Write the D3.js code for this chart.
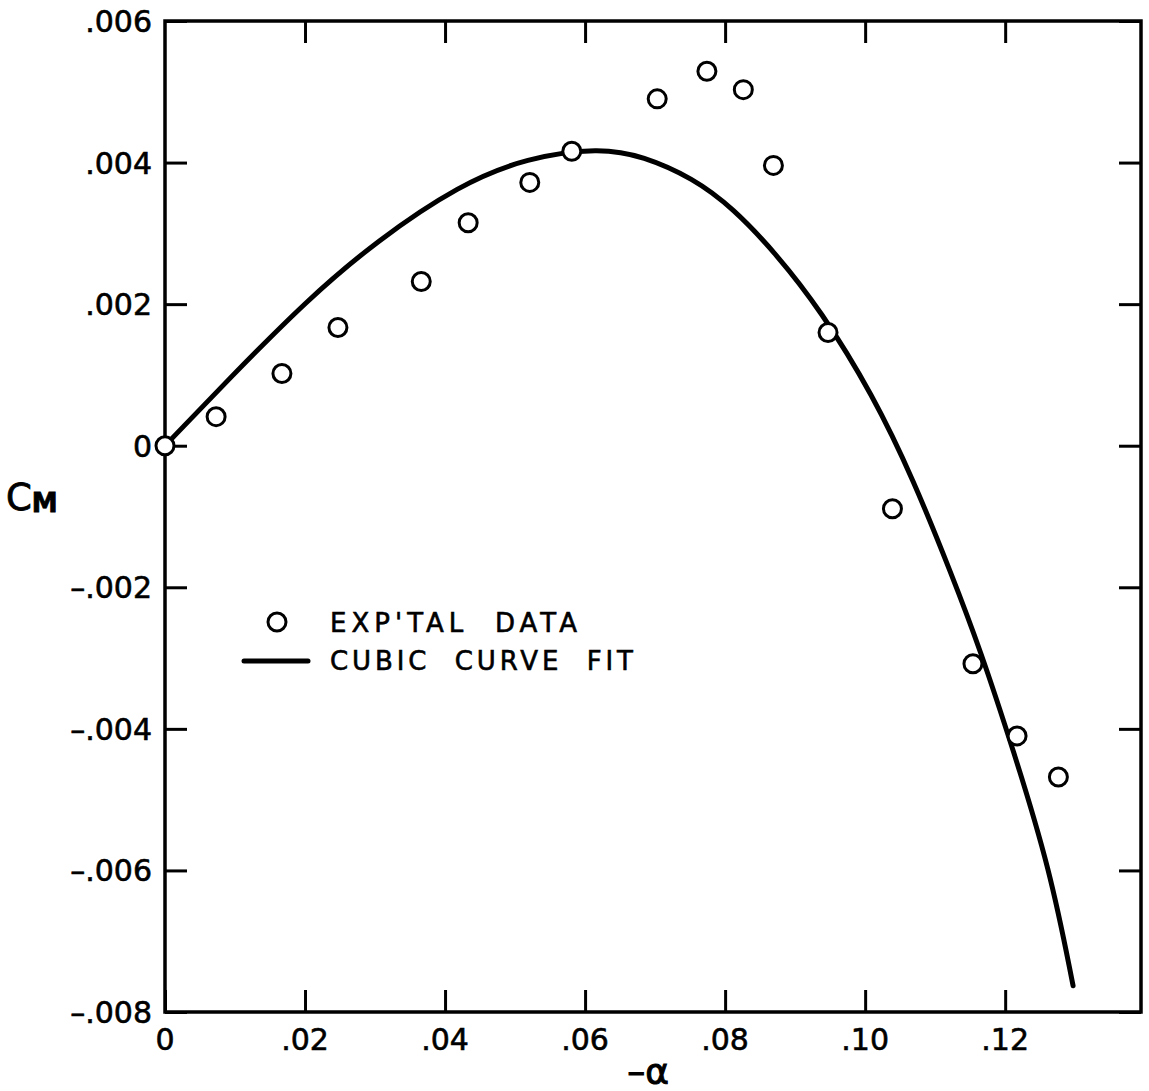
<!DOCTYPE html>
<html>
<head>
<meta charset="utf-8">
<script src="https://cdn.jsdelivr.net/npm/d3@7"></script>
<style>
  html, body { margin: 0; padding: 0; background: #fff; }
  svg text { font-family: "DejaVu Sans", "Liberation Sans", sans-serif; fill: #000; }
</style>
</head>
<body>
<svg id="chart" width="1149" height="1091"></svg>
<script>
// Measured pitching-moment coefficient vs. negative angle of attack
const expAlpha = [0, 0.0073, 0.0167, 0.0247, 0.0366, 0.0433, 0.0521, 0.0581, 0.0703,
                  0.0774, 0.0826, 0.0869, 0.0947, 0.1039, 0.1154, 0.1217, 0.1276];
const expCm    = [0, 0.00041, 0.00102, 0.00167, 0.00232, 0.00315, 0.00372, 0.00416, 0.00490,
                  0.00529, 0.00503, 0.00396, 0.00160, -0.00089, -0.00308, -0.00410, -0.00468];

// Cubic curve fit, sampled along its length
const fitAlpha = [0, 0.0089, 0.0204, 0.0303, 0.0421, 0.0517, 0.0621, 0.0683, 0.0754, 0.0811,
                  0.0874, 0.0936, 0.1011, 0.1069, 0.1124, 0.1164, 0.1211, 0.1264, 0.1297];
const fitCm    = [0, 0.00092, 0.00207, 0.00290, 0.00369, 0.00407, 0.00421, 0.00409, 0.00378, 0.00336,
                  0.00270, 0.00192, 0.00072, -0.00048, -0.00183, -0.00287, -0.00428, -0.00598, -0.00763];

// Axis ticks and their printed labels
const xTicks = [0, 0.02, 0.04, 0.06, 0.08, 0.10, 0.12];
const xTickLabels = ["0", ".02", ".04", ".06", ".08", ".10", ".12"];
const yTicks = [0.006, 0.004, 0.002, 0, -0.002, -0.004, -0.006, -0.008];
const yTickLabels = [".006", ".004", ".002", "0", "\u2013.002", "\u2013.004", "\u2013.006", "\u2013.008"];

const legendLabels = ["EXP'TAL  DATA", "CUBIC  CURVE  FIT"];

const svg = d3.select("#chart");
const plotL = 165, plotR = 1141, plotT = 21, plotB = 1012;

const x = d3.scaleLinear().domain([0, 0.1394]).range([plotL, plotR]);
const y = d3.scaleLinear().domain([-0.008, 0.006]).range([plotB, plotT]);

const tickLen = 22;
const ink = "#000";

// Frame
svg.append("rect")
  .attr("x", plotL).attr("y", plotT)
  .attr("width", plotR - plotL).attr("height", plotB - plotT)
  .attr("fill", "none").attr("stroke", ink).attr("stroke-width", 3.5);

// Inward ticks on all four sides
const axisBottom = d3.axisBottom(x).tickValues(xTicks).tickSizeInner(-tickLen).tickSizeOuter(0).tickFormat("");
const axisTop = d3.axisTop(x).tickValues(xTicks.filter(d => d > 0)).tickSizeInner(-tickLen).tickSizeOuter(0).tickFormat("");
const axisLeft = d3.axisLeft(y).tickValues(yTicks).tickSizeInner(-tickLen).tickSizeOuter(0).tickFormat("");
const axisRight = d3.axisRight(y).tickValues(yTicks).tickSizeInner(-tickLen).tickSizeOuter(0).tickFormat("");

function styleAxis(g) {
  g.select(".domain").remove();
  g.selectAll(".tick line").attr("stroke", ink).attr("stroke-width", 3);
}
svg.append("g").attr("transform", `translate(0,${plotB})`).call(axisBottom).call(styleAxis);
svg.append("g").attr("transform", `translate(0,${plotT})`).call(axisTop).call(styleAxis);
svg.append("g").attr("transform", `translate(${plotL},0)`).call(axisLeft).call(styleAxis);
svg.append("g").attr("transform", `translate(${plotR},0)`).call(axisRight).call(styleAxis);

// Tick labels (slightly stroked to mimic the heavy lettering)
svg.append("g").selectAll("text").data(xTicks).join("text")
  .attr("x", d => x(d)).attr("y", plotB + 38)
  .attr("text-anchor", "middle").attr("font-size", 30)
  .attr("stroke", ink).attr("stroke-width", 0.6)
  .text((d, i) => xTickLabels[i]);

svg.append("g").selectAll("text").data(yTicks).join("text")
  .attr("x", plotL - 13).attr("y", d => y(d) + 11)
  .attr("text-anchor", "end").attr("font-size", 30)
  .attr("stroke", ink).attr("stroke-width", 0.6)
  .text((d, i) => yTickLabels[i]);

// Axis titles
svg.append("text").attr("x", 648).attr("y", 1084)
  .attr("text-anchor", "middle").attr("font-size", 36)
  .attr("stroke", ink).attr("stroke-width", 1)
  .text("\u2013\u03b1");

const yt = svg.append("text").attr("x", 6).attr("y", 510)
  .attr("stroke", ink).attr("stroke-width", 0.8);
yt.append("tspan").attr("font-size", 37).text("C");
yt.append("tspan").attr("font-size", 26).attr("dy", 2).attr("font-weight", "bold").text("M");

// Fitted curve
const fit = fitAlpha.map((a, i) => ({ a, c: fitCm[i] }));
const line = d3.line().x(d => x(d.a)).y(d => y(d.c)).curve(d3.curveBasis);
svg.append("path").datum(fit)
  .attr("d", line).attr("fill", "none")
  .attr("stroke", ink).attr("stroke-width", 5).attr("stroke-linecap", "round");

// Experimental points
const pts = expAlpha.map((a, i) => ({ a, c: expCm[i] }));
svg.append("g").selectAll("circle").data(pts).join("circle")
  .attr("cx", d => x(d.a)).attr("cy", d => y(d.c)).attr("r", 9)
  .attr("fill", "#fff").attr("stroke", ink).attr("stroke-width", 3);

// Legend
const lg = svg.append("g");
lg.append("circle").attr("cx", 277).attr("cy", 622).attr("r", 9)
  .attr("fill", "#fff").attr("stroke", ink).attr("stroke-width", 3);
lg.append("line").attr("x1", 244).attr("x2", 308).attr("y1", 661).attr("y2", 661)
  .attr("stroke", ink).attr("stroke-width", 5).attr("stroke-linecap", "round");
lg.append("text").attr("x", 330).attr("y", 632).attr("font-size", 26)
  .attr("stroke", ink).attr("stroke-width", 0.6)
  .attr("textLength", 247).attr("lengthAdjust", "spacing").style("white-space", "pre")
  .text(legendLabels[0]);
lg.append("text").attr("x", 330).attr("y", 670).attr("font-size", 26)
  .attr("stroke", ink).attr("stroke-width", 0.6)
  .attr("textLength", 303).attr("lengthAdjust", "spacing").style("white-space", "pre")
  .text(legendLabels[1]);
</script>
</body>
</html>
